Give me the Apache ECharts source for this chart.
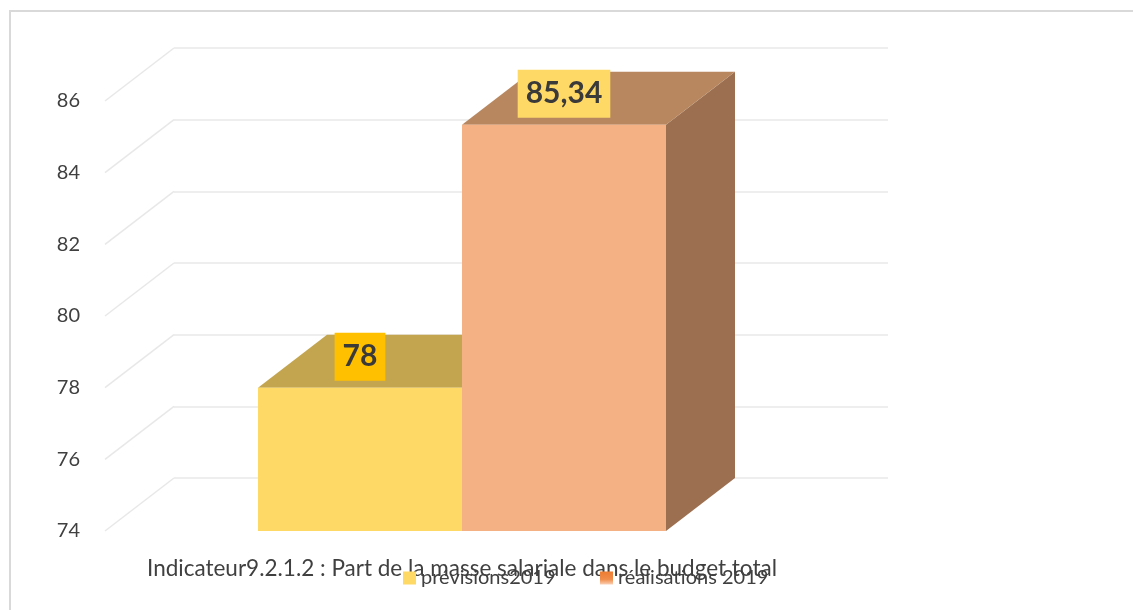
<!DOCTYPE html>
<html>
<head>
<meta charset="utf-8">
<script src="https://cdn.jsdelivr.net/npm/echarts@6/dist/echarts.min.js"></script>
<style>
  html, body { margin: 0; padding: 0; background: #fff; }
  #chart { width: 1133px; height: 610px; }
</style>
</head>
<body>
<div id="chart"></div>
<script>
// Category and series data
const categories = ['Indicateur9.2.1.2 : Part de la masse salariale dans le budget total'];
const seriesNames = ['prévisions2019', 'réalisations 2019'];
const previsions = [78];
const realisations = [85.34];

// Value axis range and ticks
const yMin = 74;
const yMax = 86;
const yStep = 2;
const yTicks = [74, 76, 78, 80, 82, 84, 86];

// 3D depth offset of the back wall (pixels)
const DEPTH_X = 69;
const DEPTH_Y = -53;

const FONT = 'Lato, "Open Sans", sans-serif';
const TEXT_COLOR = '#404040';

// Face colours per series: front, top, side, label background
const faces = [
  { front: '#FFD966', top: '#C3A54F', side: '#A88A3E', labelBg: '#FFC000' },
  { front: '#F4B183', top: '#B8875F', side: '#9B6F50', labelBg: '#FFD966' }
];

function fmt(v) {
  return String(v).replace('.', ',');
}

function barRenderer(seriesIdx) {
  return function (params, api) {
    const cat = api.value(0);
    const val = api.value(1);
    const base = api.coord([cat, yMin]);
    const top = api.coord([cat, val]);
    const bandW = api.size([1, 0])[0];
    const barW = bandW * 2 / 7;
    const cx = base[0];
    const x0 = seriesIdx === 0 ? cx - barW : cx;
    const x1 = x0 + barW;
    const yb = base[1];
    const yt = top[1];
    const f = faces[seriesIdx];
    return {
      type: 'group',
      children: [
        {
          type: 'polygon',
          shape: { points: [[x1, yt], [x1 + DEPTH_X, yt + DEPTH_Y], [x1 + DEPTH_X, yb + DEPTH_Y], [x1, yb]] },
          style: { fill: f.side }
        },
        {
          type: 'polygon',
          shape: { points: [[x0, yt], [x0 + DEPTH_X, yt + DEPTH_Y], [x1 + DEPTH_X, yt + DEPTH_Y], [x1, yt]] },
          style: { fill: f.top }
        },
        {
          type: 'rect',
          shape: { x: x0, y: yt, width: barW, height: yb - yt },
          style: { fill: f.front }
        },
        {
          type: 'text',
          x: (x0 + x1) / 2,
          y: yt - 31,
          style: {
            text: fmt(val),
            font: 'bold 30px ' + FONT,
            fill: '#3a3a3a',
            align: 'center',
            verticalAlign: 'middle',
            backgroundColor: f.labelBg,
            padding: [6, 8, 6, 8],
            lineHeight: 36
          }
        }
      ]
    };
  };
}

// Diagonal gridlines joining the value axis to the back wall
function diagRenderer(params, api) {
  const p = api.coord([0, api.value(1)]);
  const x = params.coordSys.x;
  return {
    type: 'line',
    shape: { x1: x, y1: p[1], x2: x + DEPTH_X, y2: p[1] + DEPTH_Y },
    style: { stroke: '#e8e8e8', lineWidth: 1.5 }
  };
}

const legendText = { fontFamily: FONT, fontSize: 20, lineHeight: 20, color: TEXT_COLOR };

const chart = echarts.init(document.getElementById('chart'));

chart.setOption({
  animation: false,
  backgroundColor: '#ffffff',
  graphic: [
    {
      type: 'rect',
      shape: { x: 10, y: 11, width: 1300, height: 800 },
      style: { fill: 'none', stroke: '#d9d9d9', lineWidth: 2 },
      silent: true,
      z: -10
    }
  ],
  legend: [
    {
      data: [seriesNames[0]],
      left: 403, top: 568, padding: 0,
      icon: 'rect', itemWidth: 13, itemHeight: 13,
      textStyle: legendText
    },
    {
      data: [seriesNames[1]],
      left: 600, top: 568, padding: 0,
      icon: 'rect', itemWidth: 13, itemHeight: 13,
      textStyle: legendText
    }
  ],
  grid: [
    // front plane
    { left: 105, right: 314, top: 101, bottom: 79 },
    // back wall
    { left: 105 + DEPTH_X, right: 314 - DEPTH_X, top: 101 + DEPTH_Y, bottom: 79 - DEPTH_Y }
  ],
  xAxis: [
    {
      gridIndex: 0, type: 'category', data: categories,
      axisLine: { show: false }, axisTick: { show: false }, splitLine: { show: false },
      axisLabel: { margin: 26, fontFamily: FONT, fontSize: 22.5, color: TEXT_COLOR }
    },
    {
      gridIndex: 1, type: 'category', data: categories, show: false
    }
  ],
  yAxis: [
    {
      gridIndex: 0, type: 'value', min: yMin, max: yMax, interval: yStep,
      axisLine: { show: false }, axisTick: { show: false }, splitLine: { show: false },
      axisLabel: { margin: 25, fontFamily: FONT, fontSize: 20, color: TEXT_COLOR }
    },
    {
      gridIndex: 1, type: 'value', min: yMin, max: yMax, interval: yStep,
      axisLine: { show: false }, axisTick: { show: false }, axisLabel: { show: false },
      splitLine: { show: true, lineStyle: { color: '#e8e8e8', width: 1.5 } }
    }
  ],
  series: [
    {
      type: 'custom', name: 'grid-diagonals', xAxisIndex: 0, yAxisIndex: 0,
      renderItem: diagRenderer,
      data: yTicks.map(t => [0, t]),
      silent: true, z: 1
    },
    {
      type: 'custom', name: seriesNames[0], xAxisIndex: 0, yAxisIndex: 0,
      itemStyle: { color: '#FFD966' },
      renderItem: barRenderer(0),
      data: previsions.map((v, i) => [i, v]),
      z: 2
    },
    {
      type: 'custom', name: seriesNames[1], xAxisIndex: 0, yAxisIndex: 0,
      itemStyle: {
        color: {
          type: 'linear', x: 0, y: 0, x2: 0, y2: 1,
          colorStops: [
            { offset: 0, color: '#ED7D31' },
            { offset: 0.6, color: '#F08C4A' },
            { offset: 1, color: '#FAD0B4' }
          ]
        }
      },
      renderItem: barRenderer(1),
      data: realisations.map((v, i) => [i, v]),
      z: 3
    }
  ]
});
</script>
</body>
</html>
